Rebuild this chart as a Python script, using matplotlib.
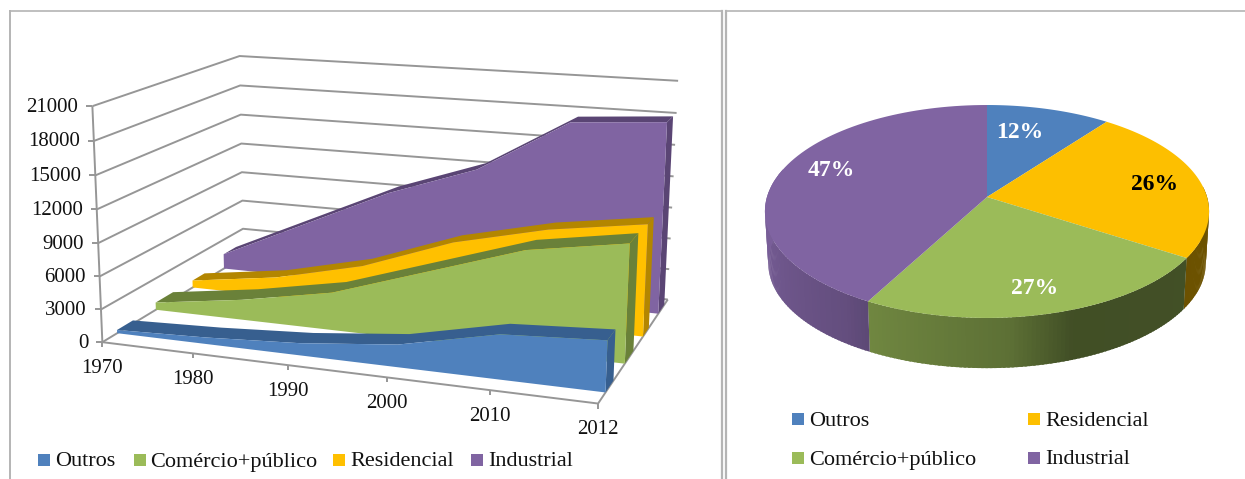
import matplotlib
matplotlib.use('Agg')
import matplotlib.pyplot as plt
from matplotlib.colors import to_rgb
import numpy as np

plt.rcParams['font.family'] = ['Liberation Serif', 'DejaVu Serif']

# --- Datos ---
anos = ['1970', '1980', '1990', '2000', '2010', '2012']
outros = [300, 600, 1100, 2000, 3900, 4400]
comercio = [700, 1900, 3500, 6300, 9100, 10500]
residencial = [700, 1900, 3900, 7000, 9000, 10270]
industrial = [1500, 5400, 9300, 12300, 17400, 18000]
y_ticks = [0, 3000, 6000, 9000, 12000, 15000, 18000, 21000]

nomes = ['Outros', 'Comércio+público', 'Residencial', 'Industrial']
cores = ['#4f81bd', '#9bbb59', '#ffc000', '#8064a2']
escuras = ['#375f8f', '#6a8139', '#b38600', '#5a4574']

pizza_nomes = ['Outros', 'Residencial', 'Comércio+público', 'Industrial']
pizza_cores = ['#4f81bd', '#fdbf00', '#9bbb59', '#8064a2']
pizza_valores = [10.3, 23.8, 23.8, 42.1]
pizza_textos = ['12%', '26%', '27%', '47%']

fig = plt.figure(figsize=(12.45, 4.79), dpi=100)
ax = fig.add_axes([0, 0, 1, 1])
ax.set_xlim(0, 1245)
ax.set_ylim(479, 0)
ax.axis('off')

# --- Marcos ---
gris = '#b4b4b4'
ax.plot([10, 10], [479, 11], color=gris, lw=1.4, zorder=0)
ax.plot([10, 722], [11, 11], color=gris, lw=1.2, zorder=0)
ax.plot([722, 722], [11, 479], color=gris, lw=1.6, zorder=0)
ax.plot([726, 726], [479, 11], color=gris, lw=1.6, zorder=0)
ax.plot([726, 1245], [11, 11], color=gris, lw=1.2, zorder=0)

# --- Perspectiva del grafico de areas ---
# (x, profundidad, altura) -> pixel, ajustado con las esquinas de la caja
esquinas = [
  (0, 0, 0, 103, 342), (0, 0, 1, 92, 106), (0, 1, 0, 243, 257), (0, 1, 1, 240, 56),
  (1, 1, 0, 668, 299), (1, 1, 1, 678, 81), (1, 0, 0, 598, 403),
  (.2, 0, 0, 193, 353), (.4, 0, 0, 288, 365), (.6, 0, 0, 387, 378), (.8, 0, 0, 490, 391),
]
filas = []
for x, z, v, px, py in esquinas:
    px, py = px / 1000, py / 1000
    filas.append([x, z, v, 1, 0, 0, 0, 0, -px * x, -px * z, -px * v, -px])
    filas.append([0, 0, 0, 0, x, z, v, 1, -py * x, -py * z, -py * v, -py])
matriz = np.linalg.svd(np.array(filas))[2][-1].reshape(3, 4)

def proyectar(x, z, v):
    x, z, v = np.broadcast_arrays(x, z, v)
    p = np.stack([x, z, v / 21000, np.ones_like(x, dtype=float)])
    q = matriz @ p
    return q[0] / q[2] * 1000, q[1] / q[2] * 1000

linea = {'color': '#969696', 'lw': 1.4, 'solid_capstyle': 'butt', 'zorder': 0}
texto = 15

# Rejilla
for t in y_ticks:
    px, py = proyectar([0, 0, 1], [0, 1, 1], t)
    ax.plot(px, py, **linea)
    ax.plot([px[0] - 6, px[0]], [py[0], py[0]], **linea)
    ax.text(px[0] - 14, py[0] + 1, str(t), ha='right', va='center', fontsize=texto, color='#111111')
px, py = proyectar([0, 0], [0, 0], [0, 21000])
ax.plot(px, py, **linea)
px, py = proyectar([0, 1, 1], [0, 0, 1], 0)
ax.plot(px, py, **linea)
xs = np.arange(6) / 5
for x, ano in zip(xs, anos):
    px, py = proyectar(x, 0, 0)
    ax.plot([px, px], [py, py + 5], **linea)
    ax.text(px, py + 26, ano, ha='center', va='center', fontsize=texto, color='#111111')

# Series, de atras hacia adelante
z_frente = [.09, .34, .60, .84]
z_fondo = [.19, .46, .69, .94]
series = [outros, comercio, residencial, industrial]
for i in [3, 2, 1, 0]:
    v = np.array(series[i], dtype=float)
    fx, fy = proyectar(xs, z_frente[i], v)
    bx, by = proyectar(xs, z_fondo[i], v)
    # cara derecha
    px, py = proyectar(1, [z_frente[i], z_fondo[i], z_fondo[i], z_frente[i]], [0, 0, v[-1], v[-1]])
    ax.fill(px, py, color=escuras[i], lw=0)
    # cinta superior
    ax.fill(np.r_[fx, bx[::-1]], np.r_[fy, by[::-1]], color=escuras[i], lw=0)
    # cara frontal
    sx, sy = proyectar(xs[[-1, 0]], z_frente[i], 0)
    ax.fill(np.r_[fx, sx], np.r_[fy, sy], color=cores[i], lw=0)

# Leyenda izquierda
ley_cuadros = [38, 134, 333, 471]
ley_textos = [55, 150, 350, 488]
for nome, cor, cx, tx in zip(nomes, cores, ley_cuadros, ley_textos):
    ax.fill([cx, cx + 12, cx + 12, cx], [454, 454, 466, 466], color=cor, lw=0)
    ax.text(tx, 462, nome, ha='left', va='center', fontsize=texto + 1, color='#111111')

# --- Pizza ---
k = .136
def disco(ang, r=1.0, cy=197.0, esc=1.0):
    ang = np.radians(ang)
    u, w = r * np.sin(ang), r * np.cos(ang)
    d = 1 + k * w
    return 987 + 220 * esc * u / d, cy - 104.5 * esc * w / d

limites = np.r_[0, np.cumsum(pizza_valores)] / np.sum(pizza_valores) * 360
tonos = ([100, 160, 175, 208, 215, 270], [.43, .42, .6, .72, .78, .95])
for i in range(4):
    a0, a1 = limites[i], limites[i + 1]
    for a in np.arange(a0, a1, 1.0):
        b = min(a + 1.6, a1)
        if b < 85 or a > 285:
            continue
        arco = np.array([a, b])
        x1, y1 = disco(arco)
        x2, y2 = disco(arco, cy=249.0, esc=.985)
        tono = np.interp(a + .5, tonos[0], tonos[1])
        c = tuple(np.array(to_rgb(pizza_cores[i])) * tono)
        ax.fill(np.r_[x1, x2[::-1]], np.r_[y1, y2[::-1]], color=c, lw=0)
for i in range(4):
    arco = np.linspace(limites[i], limites[i + 1], 80)
    x1, y1 = disco(arco)
    ax.fill(np.r_[987, x1], np.r_[197, y1], color=pizza_cores[i], lw=0)

pos_textos = [(1020, 132), (1155, 184), (1035, 289), (831, 170)]
cor_textos = ['white', 'black', 'white', 'white']
for t, (tx, ty), c in zip(pizza_textos, pos_textos, cor_textos):
    ax.text(tx, ty, t, ha='center', va='center', fontsize=17, fontweight='bold', color=c)

# Leyenda derecha
pos_ley = [(792, 419), (1028, 419), (792, 458), (1028, 458)]
for nome, cor, (cx, cy) in zip(pizza_nomes, pizza_cores, pos_ley):
    ax.fill([cx, cx + 12, cx + 12, cx], [cy - 6, cy - 6, cy + 6, cy + 6], color=cor, lw=0)
    ax.text(cx + 17, cy + 2, nome, ha='left', va='center', fontsize=texto + 1, color='#111111')

fig.savefig('out.png', dpi=100)
